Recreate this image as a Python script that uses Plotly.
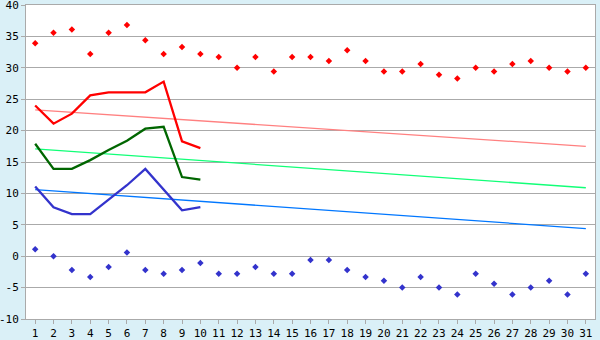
import plotly.graph_objects as go

days = list(range(1, 32))
tick_labels = [str(d) for d in days]

# record highs / lows (markers)
rec_high = [33.9, 35.6, 36.1, 32.2, 35.6, 36.8, 34.4, 32.2, 33.3, 32.2,
            31.7, 30.0, 31.7, 29.4, 31.7, 31.7, 31.1, 32.8, 31.1, 29.4,
            29.4, 30.6, 28.9, 28.3, 30.0, 29.4, 30.6, 31.1, 30.0, 29.4, 30.0]
rec_low = [1.1, 0.0, -2.2, -3.3, -1.7, 0.6, -2.2, -2.8, -2.2, -1.1,
           -2.8, -2.8, -1.7, -2.8, -2.8, -0.6, -0.6, -2.2, -3.3, -3.9,
           -5.0, -3.3, -5.0, -6.1, -2.8, -4.4, -6.1, -5.0, -3.9, -6.1, -2.8]

# actual daily values (first 10 days)
act_days = days[:10]
act_high = [24.0, 21.1, 22.7, 25.6, 26.1, 26.1, 26.1, 27.8, 18.3, 17.2]
act_mean = [17.9, 13.9, 13.9, 15.3, 16.9, 18.4, 20.3, 20.6, 12.6, 12.2]
act_low = [11.1, 7.8, 6.7, 6.7, 9.0, 11.3, 13.9, 10.6, 7.3, 7.8]

# normals (straight lines, endpoints)
norm_days = [1, 31]
norm_high = [23.3, 17.5]
norm_mean = [17.1, 10.9]
norm_low = [10.6, 4.4]

y_ticks = [-10, -5, 0, 5, 10, 15, 20, 25, 30, 35, 40]

fig = go.Figure()
fig.add_trace(go.Scatter(x=norm_days, y=norm_high, mode="lines",
                         line=dict(color="#FF8080", width=1.3)))
fig.add_trace(go.Scatter(x=norm_days, y=norm_mean, mode="lines",
                         line=dict(color="#11FF77", width=1.3)))
fig.add_trace(go.Scatter(x=norm_days, y=norm_low, mode="lines",
                         line=dict(color="#0077FF", width=1.3)))
fig.add_trace(go.Scatter(x=act_days, y=act_high, mode="lines",
                         line=dict(color="#FF0000", width=2.3)))
fig.add_trace(go.Scatter(x=act_days, y=act_mean, mode="lines",
                         line=dict(color="#006600", width=2.3)))
fig.add_trace(go.Scatter(x=act_days, y=act_low, mode="lines",
                         line=dict(color="#3333CC", width=2.3)))
fig.add_trace(go.Scatter(x=days, y=rec_high, mode="markers",
                         marker=dict(symbol="diamond", size=5, color="#FF0000",
                                     line=dict(width=0))))
fig.add_trace(go.Scatter(x=days, y=rec_low, mode="markers",
                         marker=dict(symbol="diamond", size=5, color="#3333CC",
                                     line=dict(width=0))))

font = dict(family="DejaVu Sans Mono", size=11, color="#000000")
fig.update_layout(
    width=600, height=340,
    margin=dict(l=26, r=5, t=5, b=21, autoexpand=False),
    paper_bgcolor="#DAF0F7",
    plot_bgcolor="#FFFFFF",
    showlegend=False,
    font=font,
    xaxis=dict(range=[0.5, 31.5], tickmode="array", tickvals=days,
               ticktext=tick_labels, showgrid=False, zeroline=False,
               ticks="outside", ticklen=4, tickcolor="#AAAAAA",
               showline=True, linecolor="#AAAAAA", linewidth=1, mirror=True,
               tickfont=font, ticklabeloverflow="allow", automargin=False),
    yaxis=dict(range=[-10, 40], tickmode="array", tickvals=y_ticks,
               ticktext=[str(v) for v in y_ticks],
               showgrid=True, gridcolor="#AAAAAA",
               gridwidth=1, zeroline=False, ticks="outside", ticklen=4,
               tickcolor="#AAAAAA", showline=True, linecolor="#AAAAAA",
               linewidth=1, mirror=True, tickfont=font,
               ticklabeloverflow="allow", automargin=False),
)
fig.write_html("out.html")
